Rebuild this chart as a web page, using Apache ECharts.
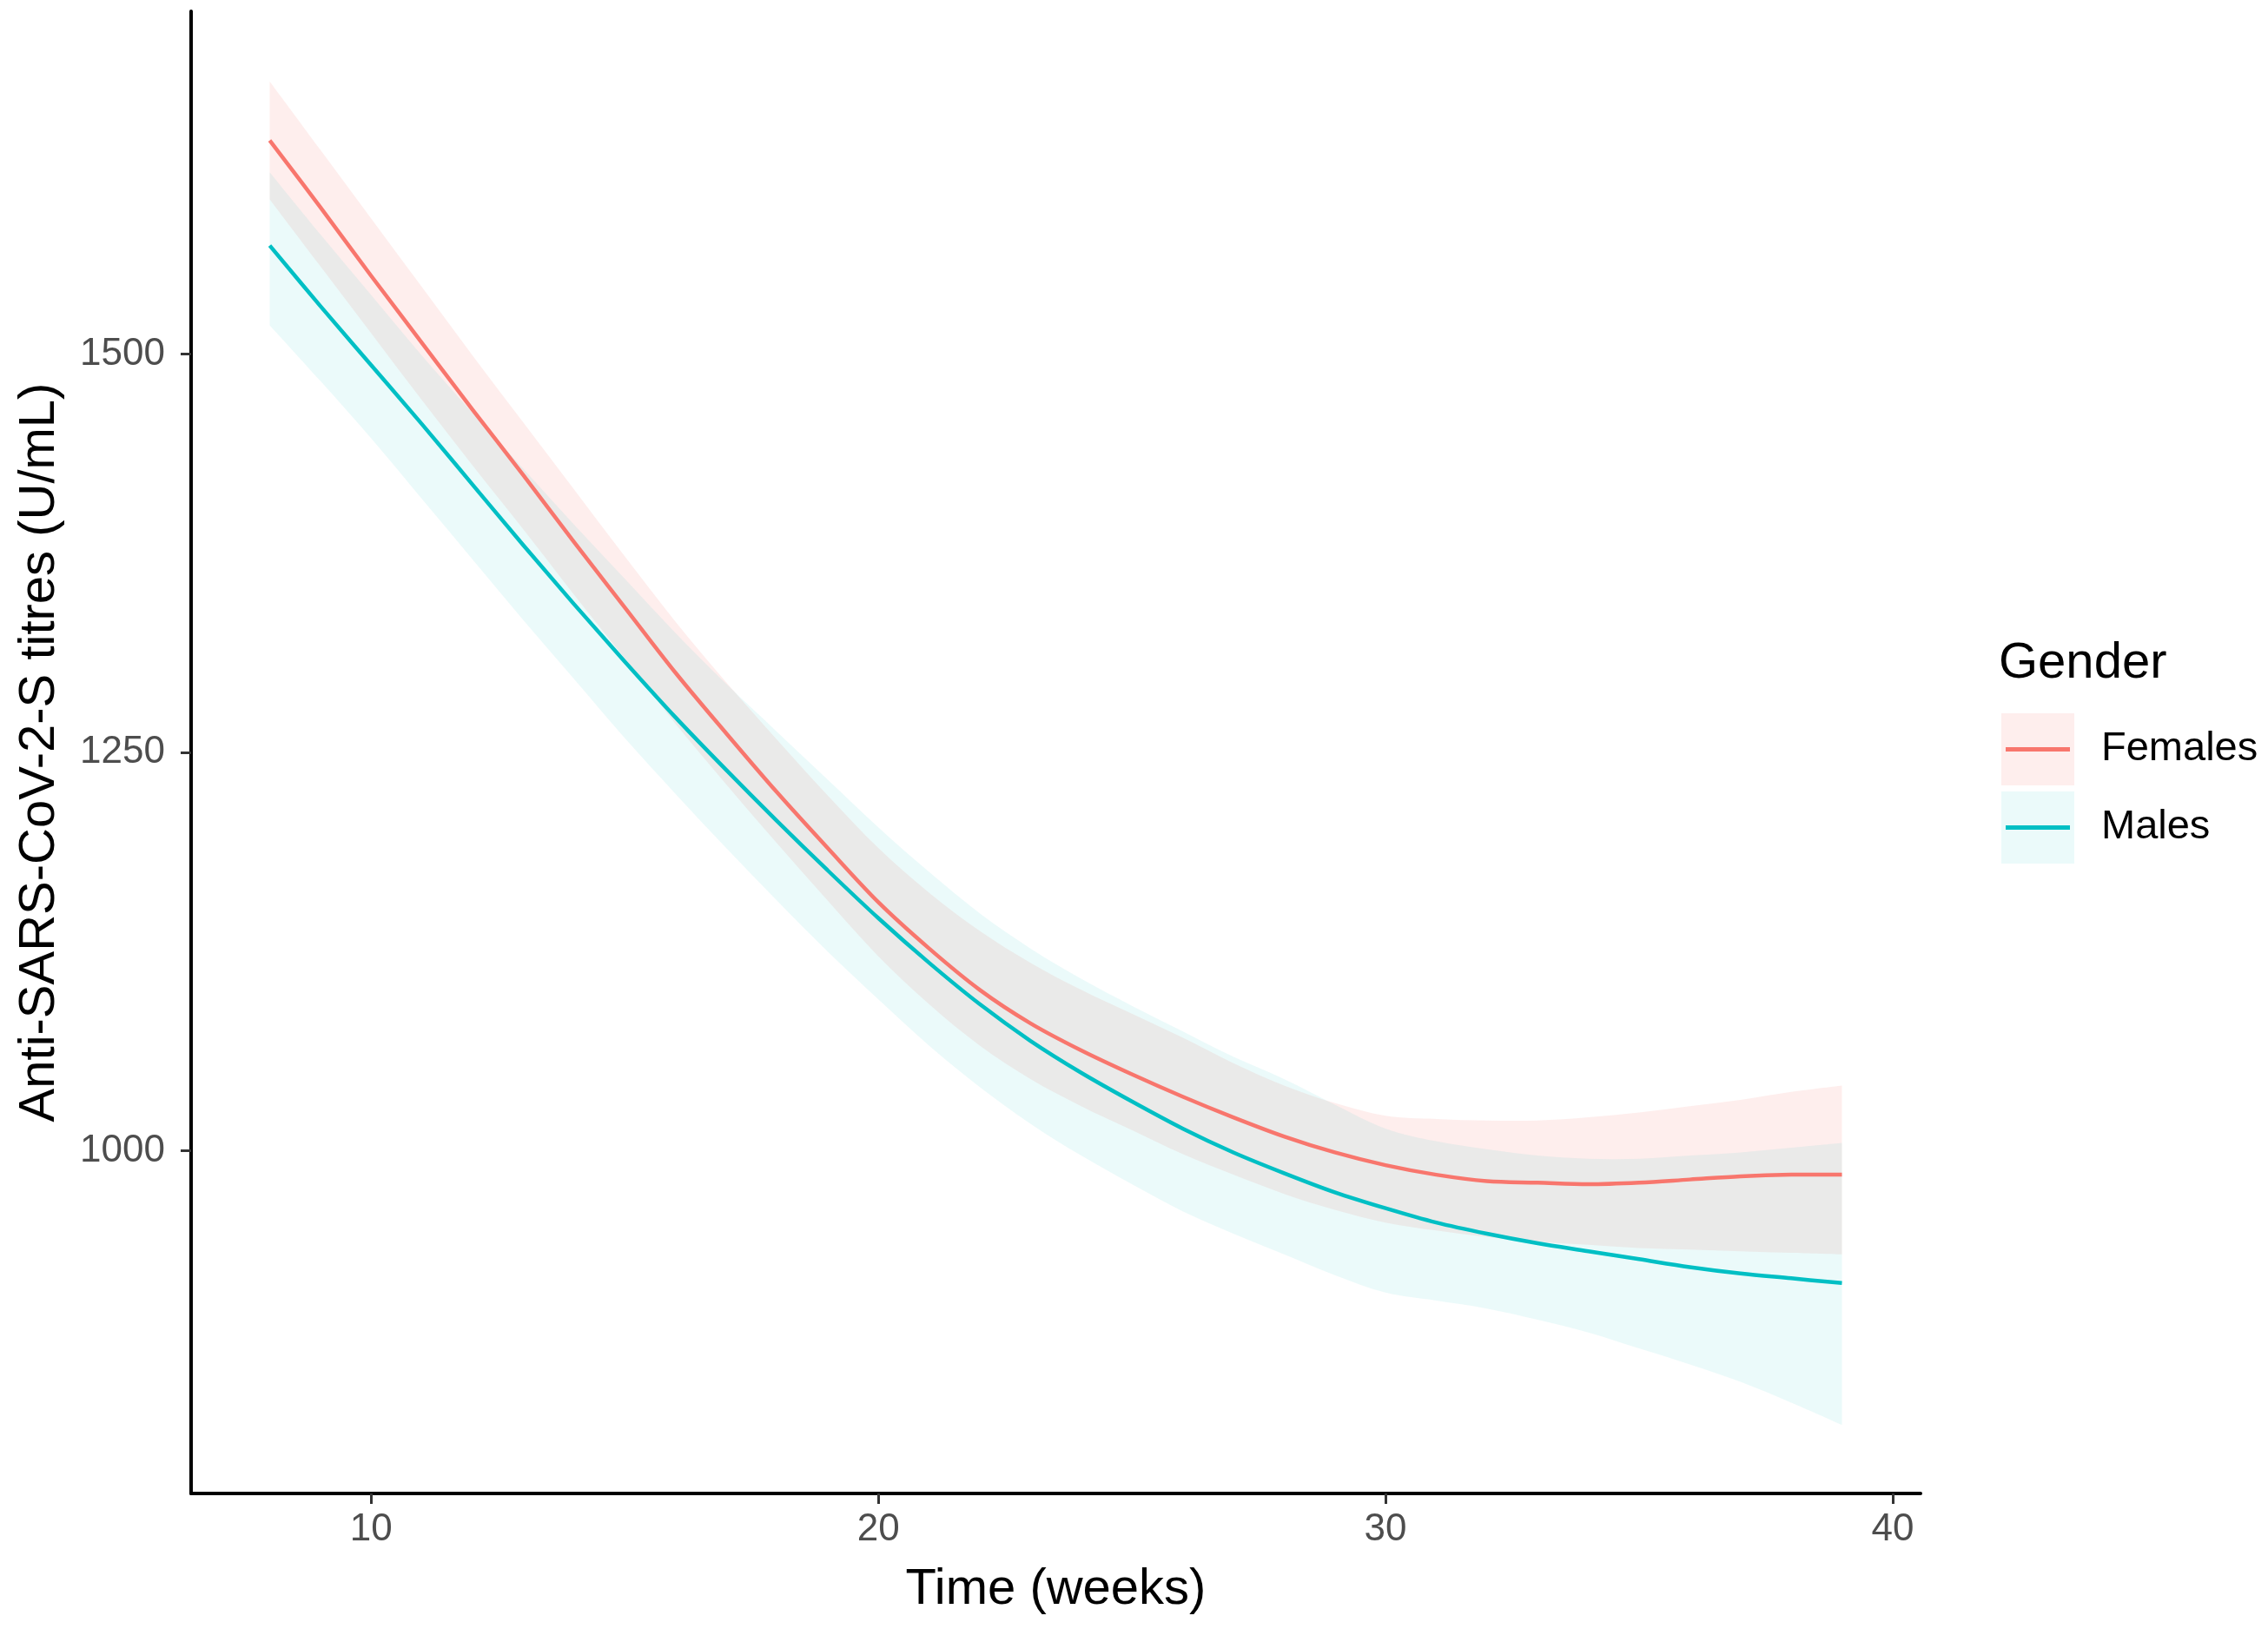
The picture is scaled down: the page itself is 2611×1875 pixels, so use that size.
<!DOCTYPE html>
<html>
<head>
<meta charset="utf-8">
<script src="https://cdn.jsdelivr.net/npm/echarts@6/dist/echarts.min.js"></script>
<style>
html,body{margin:0;padding:0;background:#ffffff;}
#chart{width:2611px;height:1875px;}
</style>
</head>
<body>
<div id="chart"></div>
<script>
// ---- data ----
const weeks = [8,9,10,11,12,13,14,15,16,17,18,19,20,21,22,23,24,25,26,27,28,29,30,31,32,33,34,35,36,37,38,39];

const femalesFit   = [1634,1592,1549,1507,1465,1424,1382,1341,1300,1262,1225,1190,1156,1127,1101,1080,1063,1048,1034,1021,1009,999,991,985,981,980,979,980,982,984,985,985];
const femalesUpper = [1671,1628,1585,1542,1499,1457,1415,1373,1332,1294,1258,1223,1190,1162,1138,1118,1101,1086,1071,1055,1041,1030,1022,1020,1019,1019,1021,1024,1028,1032,1037,1041];
const femalesLower = [1597,1555,1513,1471,1430,1390,1349,1309,1268,1230,1193,1157,1122,1092,1066,1045,1028,1013,998,985,973,963,955,950,946,943,941,939,938,937,936,935];

const malesFit     = [1568,1530,1493,1456,1418,1380,1343,1307,1272,1239,1207,1176,1146,1118,1092,1069,1049,1031,1014,999,986,974,964,955,948,942,937,932,927,923,920,917];
const malesUpper   = [1614,1575,1537,1499,1463,1428,1393,1359,1325,1293,1263,1233,1203,1175,1149,1127,1108,1091,1075,1059,1045,1029,1014,1006,1001,997,995,995,997,999,1002,1005];
const malesLower   = [1518,1483,1447,1409,1371,1333,1296,1259,1224,1190,1157,1125,1095,1066,1040,1017,997,979,962,948,935,922,911,906,901,894,886,876,866,855,842,828];

const xTicks = [10,20,30,40];
const yTicks = [1000,1250,1500];

const seriesNames = ['Females','Males'];
const legendTitle = 'Gender';
const xTitle = 'Time (weeks)';
const yTitle = 'Anti-SARS-CoV-2-S titres (U/mL)';

// ---- helpers ----
const pairs = (xs, ys) => xs.map((x, i) => [x, ys[i]]);

const FONT = '"Liberation Sans", Arial, Helvetica, sans-serif';
const RED = '#F8766D', TEAL = '#00BFC4';
const RED_FILL = 'rgba(248,118,109,0.12)';
const TEAL_FILL = 'rgba(0,191,196,0.08)';

// Catmull-Rom -> cubic Bezier through pixel points (continuing an existing path)
function curveThrough(pts) {
  let d = '';
  for (let i = 0; i < pts.length - 1; i++) {
    const p0 = pts[i - 1] || pts[i];
    const p1 = pts[i];
    const p2 = pts[i + 1];
    const p3 = pts[i + 2] || pts[i + 1];
    const c1x = p1[0] + (p2[0] - p0[0]) / 6, c1y = p1[1] + (p2[1] - p0[1]) / 6;
    const c2x = p2[0] - (p3[0] - p1[0]) / 6, c2y = p2[1] - (p3[1] - p1[1]) / 6;
    d += ' C' + c1x + ',' + c1y + ' ' + c2x + ',' + c2y + ' ' + p2[0] + ',' + p2[1];
  }
  return d;
}

function bandSeries(name, lower, upper, fill) {
  return {
    name: name, type: 'custom', silent: true, z: 1,
    data: weeks.map((w, i) => [w, upper[i], lower[i]]),
    encode: { x: 0, y: [1, 2] },
    renderItem: function (params, api) {
      if (params.dataIndex !== 0) return null;
      const up = weeks.map((w, i) => api.coord([w, upper[i]]));
      const lo = weeks.map((w, i) => api.coord([w, lower[i]])).reverse();
      let d = 'M' + up[0][0] + ',' + up[0][1] + curveThrough(up);
      d += ' L' + lo[0][0] + ',' + lo[0][1] + curveThrough(lo) + ' Z';
      return {
        type: 'path',
        shape: { pathData: d },
        style: { fill: fill, stroke: null }
      };
    }
  };
}

function fitSeries(name, values, color) {
  return {
    name: name, type: 'custom', z: 5,
    data: weeks.map((w, i) => [w, values[i]]),
    encode: { x: 0, y: 1 },
    renderItem: function (params, api) {
      if (params.dataIndex !== 0) return null;
      const pts = weeks.map((w, i) => api.coord([w, values[i]]));
      const d = 'M' + pts[0][0] + ',' + pts[0][1] + curveThrough(pts);
      return {
        type: 'path',
        shape: { pathData: d },
        style: { fill: null, stroke: color, lineWidth: 4.5, lineJoin: 'round' }
      };
    }
  };
}

const chart = echarts.init(document.getElementById('chart'), null, { renderer: 'canvas' });

const linePath = 'path://M0,0H74V5H0Z M105,0L105,5Z';

chart.setOption({
  animation: false,
  backgroundColor: '#ffffff',
  textStyle: { fontFamily: FONT },
  grid: { left: 220, right: 400, top: 13, bottom: 156, containLabel: false },
  title: {
    text: legendTitle, left: 2296, top: 730, padding: 5,
    textStyle: { fontFamily: FONT, fontSize: 58, fontWeight: 'normal', color: '#000000' }
  },
  legend: [
    {
      orient: 'vertical', left: 2304, top: 821, padding: 0,
      itemWidth: 84, itemHeight: 83, itemGap: 7, selectedMode: false, z: 2,
      data: [
        { name: seriesNames[0], icon: 'rect', itemStyle: { color: RED_FILL, borderWidth: 0 } },
        { name: seriesNames[1], icon: 'rect', itemStyle: { color: TEAL_FILL, borderWidth: 0 } }
      ],
      formatter: () => '',
      textStyle: { fontSize: 47, lineHeight: 83 }
    },
    {
      orient: 'vertical', left: 2309, top: 821, padding: 0,
      itemWidth: 105, itemHeight: 5, itemGap: 7, selectedMode: false, z: 3,
      data: [
        { name: seriesNames[0], icon: linePath, itemStyle: { color: RED, borderWidth: 0 } },
        { name: seriesNames[1], icon: linePath, itemStyle: { color: TEAL, borderWidth: 0 } }
      ],
      textStyle: { fontFamily: FONT, fontSize: 47, lineHeight: 83, color: '#000000' }
    }
  ],
  xAxis: {
    type: 'value', min: 6.45, max: 40.55,
    name: xTitle, nameLocation: 'middle', nameGap: 82,
    nameTextStyle: { fontFamily: FONT, fontSize: 58, color: '#000000' },
    axisLine: { show: true, onZero: false, lineStyle: { color: '#000000', width: 4 } },
    axisTick: { show: true, length: 12, customValues: xTicks, lineStyle: { color: '#333333', width: 3 } },
    axisLabel: { show: true, customValues: xTicks, margin: 20, fontFamily: FONT, fontSize: 44, color: '#4D4D4D',
                 formatter: v => String(v) },
    splitLine: { show: false }
  },
  yAxis: {
    type: 'value', min: 785, max: 1715,
    name: yTitle, nameLocation: 'middle', nameGap: 145,
    nameTextStyle: { fontFamily: FONT, fontSize: 58, color: '#000000' },
    axisLine: { show: true, onZero: false, lineStyle: { color: '#000000', width: 4 } },
    axisTick: { show: true, length: 12, customValues: yTicks, lineStyle: { color: '#333333', width: 3 } },
    axisLabel: { show: true, customValues: yTicks, margin: 30, fontFamily: FONT, fontSize: 44, color: '#4D4D4D',
                 formatter: v => String(v) },
    splitLine: { show: false }
  },
  series: [
    bandSeries('Females CI', femalesLower, femalesUpper, RED_FILL),
    bandSeries('Males CI', malesLower, malesUpper, TEAL_FILL),
    fitSeries(seriesNames[0], femalesFit, RED),
    fitSeries(seriesNames[1], malesFit, TEAL)
  ]
});
</script>
</body>
</html>
